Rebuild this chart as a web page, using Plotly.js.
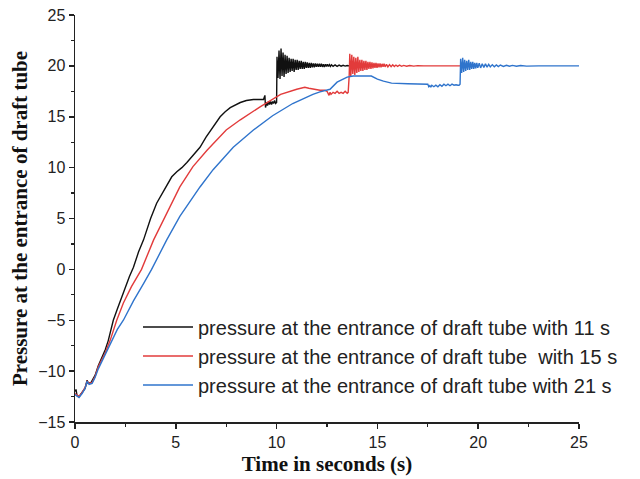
<!DOCTYPE html>
<html>
<head>
<meta charset="utf-8">
<script src="https://cdn.plot.ly/plotly-3.0.1.min.js"></script>
<style>html,body{margin:0;padding:0;background:#fff;}#chart{width:640px;height:479px;}</style>
</head>
<body>
<div id="chart"></div>
<script>
// Series names
const names = [
  "pressure at the entrance of draft tube with 11 s",
  "pressure at the entrance of draft tube  with 15 s",
  "pressure at the entrance of draft tube with 21 s"
];

// Black: closing time 11 s
const t11 = [0,0.05,0.1,0.2,0.35,0.5,0.6,0.65,0.8,1.0,1.15,1.3,1.5,1.65,1.8,1.9,2.1,2.4,2.7,2.9,3.15,3.4,3.75,4.05,4.55,4.8,5.05,5.3,5.55,5.9,6.2,6.5,6.85,7.2,7.45,7.7,8.2,8.5,8.85,9.35,
 9.42,9.45,9.5,9.55,9.6,9.65,9.7,9.75,9.8,9.85,9.9,9.95,10.0,
 10.02,10.07,10.12,10.17,10.22,10.27,10.32,10.37,10.42,10.47,10.52,10.57,10.62,10.67,10.72,10.77,10.82,10.87,10.92,10.97,
 11.02,11.07,11.12,11.17,11.22,11.27,11.32,11.37,11.42,11.47,11.52,11.57,11.62,11.67,11.72,11.77,11.82,11.87,11.92,11.97,
 12.02,12.07,12.12,12.17,12.22,12.27,12.32,12.37,12.42,12.47,12.52,12.57,12.62,12.67,12.72,12.8,12.9,13.0,13.1,13.2,13.3,13.4,13.5,13.6];
const p11 = [-12.0,-11.8,-12.4,-12.5,-12.1,-11.7,-10.9,-11.2,-11.1,-10.4,-9.5,-8.8,-7.9,-7.0,-5.9,-5.0,-3.9,-2.2,-0.7,0.2,1.7,2.9,5.0,6.5,8.3,9.1,9.6,10.0,10.5,11.3,12.0,13.0,14.0,15.0,15.5,15.9,16.4,16.6,16.7,16.7,
 17.1,15.9,16.4,16.1,16.5,16.2,16.5,16.2,16.5,16.3,16.6,16.3,16.4,
 20.9,18.8,21.5,18.7,21.7,19.0,21.3,18.9,21.1,19.2,21.0,19.3,20.8,19.4,20.7,19.5,20.7,19.4,20.6,19.6,
 20.6,19.6,20.5,19.7,20.5,19.7,20.4,19.7,20.4,19.8,20.35,19.8,20.3,19.8,20.3,19.85,20.25,19.85,20.25,19.9,
 20.2,19.9,20.2,19.9,20.2,19.9,20.15,19.9,20.15,19.95,20.15,19.95,20.12,19.95,20.1,19.95,20.1,19.95,20.08,19.97,20.06,19.98,20.04,20.0];

// Red: closing time 15 s
const t15 = [0,0.1,0.2,0.35,0.5,0.6,0.7,0.85,1.0,1.15,1.3,1.5,1.74,1.9,2.07,2.4,2.8,3.3,3.9,4.55,5.2,5.85,6.55,7.5,8.2,9.2,10.2,11.0,11.4,11.6,12.15,12.4,
 12.5,12.6,12.65,12.7,12.8,12.9,13.0,13.1,13.2,13.3,13.4,13.5,13.55,
 13.6,13.63,13.68,13.73,13.78,13.83,13.88,13.93,13.98,14.03,14.08,14.13,14.18,14.23,14.28,14.33,14.38,14.43,14.48,14.53,14.58,14.63,14.68,14.73,14.78,14.83,14.88,14.93,14.98,
 15.03,15.08,15.13,15.18,15.23,15.28,15.33,15.38,15.45,15.52,15.6,15.68,15.76,15.84,15.92,16.0,16.1,16.2,16.3,16.45,16.6,16.8,17.0,17.3,19.2];
const p15 = [-12.2,-12.4,-12.5,-12.1,-11.6,-11.0,-11.2,-11.1,-10.5,-9.6,-9.0,-8.2,-7.0,-6.0,-5.0,-3.3,-1.7,0.0,2.9,5.5,8.1,10.1,11.7,13.7,14.7,16.0,17.2,17.7,17.9,17.8,17.6,17.6,
 17.5,17.1,17.4,17.2,17.4,17.3,17.5,17.3,17.4,17.3,17.5,17.3,17.4,
 19.0,21.2,18.9,21.1,19.2,20.9,19.1,20.8,19.3,20.9,19.4,20.6,19.5,20.6,19.5,20.5,19.6,20.5,19.6,20.4,19.7,20.4,19.7,20.35,19.75,20.3,19.8,20.3,19.8,
 20.25,19.85,20.25,19.85,20.2,19.9,20.2,19.9,20.15,19.9,20.12,19.92,20.1,19.93,20.08,19.95,20.07,19.96,20.05,19.97,20.04,19.98,20.02,20.0,20.0];

// Blue: closing time 21 s
const t21 = [0,0.1,0.2,0.35,0.5,0.6,0.7,0.85,1.0,1.15,1.3,1.5,1.83,2.1,2.4,2.9,3.4,3.8,4.55,5.2,6.2,6.85,7.85,8.85,9.8,10.8,11.8,12.15,12.65,13.0,13.5,13.8,14.7,15.0,15.3,15.7,16.5,17.5,
 17.55,17.6,17.65,17.7,17.8,17.9,18.0,18.1,18.2,18.3,18.4,18.5,18.6,18.7,18.8,18.9,19.0,19.05,19.1,
 19.13,19.18,19.23,19.28,19.33,19.38,19.43,19.48,19.53,19.58,19.63,19.68,19.73,19.78,19.83,19.88,19.93,19.98,
 20.05,20.12,20.2,20.28,20.36,20.44,20.52,20.6,20.7,20.8,20.9,21.0,21.1,21.25,21.4,21.55,21.7,21.9,22.1,22.4,22.7,23.0,25.0];
const p21 = [-12.3,-12.5,-12.6,-12.2,-11.7,-11.0,-11.3,-11.2,-10.6,-9.8,-9.2,-8.4,-7.0,-5.9,-5.0,-3.1,-1.4,0.0,2.9,5.2,8.1,9.8,12.0,13.7,15.1,16.3,17.2,17.45,17.7,18.4,18.9,19.0,19.0,18.7,18.5,18.3,18.25,18.2,
 17.95,18.05,17.9,18.1,17.95,18.1,17.95,18.15,18.0,18.2,18.05,18.2,18.05,18.2,18.1,18.15,18.1,18.1,18.2,
 20.7,19.3,20.8,19.4,20.6,19.5,20.5,19.6,20.6,19.6,20.4,19.7,20.4,19.7,20.3,19.75,20.3,19.8,
 20.25,19.8,20.2,19.85,20.2,19.88,20.15,19.9,20.12,19.92,20.1,19.93,20.08,19.95,20.06,19.96,20.05,19.97,20.03,19.98,20.02,20.0,20.0];

const colors = ["#111111", "#e23b3b", "#2f74cc"];

const traces = [[t11,p11],[t15,p15],[t21,p21]].map((s,i)=>({
  x: s[0], y: s[1], type: "scatter", mode: "lines", name: names[i],
  line: {color: colors[i], width: 1.4}
}));

const layout = {
  width: 640, height: 479,
  margin: {l: 75, r: 61, t: 15, b: 57},
  paper_bgcolor: "#fff", plot_bgcolor: "#fff",
  font: {family: "Liberation Sans, Arial, sans-serif", size: 16, color: "#222"},
  showlegend: true,
  legend: {
    x: 0.125, y: 0.162, xanchor: "left", yanchor: "middle",
    bgcolor: "rgba(0,0,0,0)", borderwidth: 0,
    font: {family: "Liberation Sans, Arial, sans-serif", size: 20, color: "#222"},
    itemwidth: 50, tracegroupgap: 0
  },
  xaxis: {
    range: [0, 25], dtick: 5, tick0: 0,
    showline: true, linecolor: "#222", linewidth: 1.5, mirror: false,
    ticks: "outside", ticklen: 5, tickwidth: 1.5, tickcolor: "#222",
    minor: {dtick: 2.5, ticks: "outside", ticklen: 3, tickwidth: 1.2, tickcolor: "#222"},
    showgrid: false, zeroline: false,
    tickfont: {size: 16, color: "#222"},
    title: {text: "Time in seconds (s)", font: {family: "Liberation Serif, Times New Roman, serif", size: 21, color: "#111", weight: "bold"}, standoff: 6}
  },
  yaxis: {
    range: [-15, 25], dtick: 5, tick0: 0,
    showline: true, linecolor: "#222", linewidth: 1.5, mirror: false,
    ticks: "outside", ticklen: 5, tickwidth: 1.5, tickcolor: "#222",
    minor: {dtick: 2.5, ticks: "outside", ticklen: 3, tickwidth: 1.2, tickcolor: "#222"},
    showgrid: false, zeroline: false,
    tickfont: {size: 16, color: "#222"},
    title: {text: "Pressure at the entrance of draft tube", font: {family: "Liberation Serif, Times New Roman, serif", size: 21, color: "#111", weight: "bold"}, standoff: 5}
  }
};

Plotly.newPlot("chart", traces, layout, {displayModeBar: false, staticPlot: true});
</script>
</body>
</html>
